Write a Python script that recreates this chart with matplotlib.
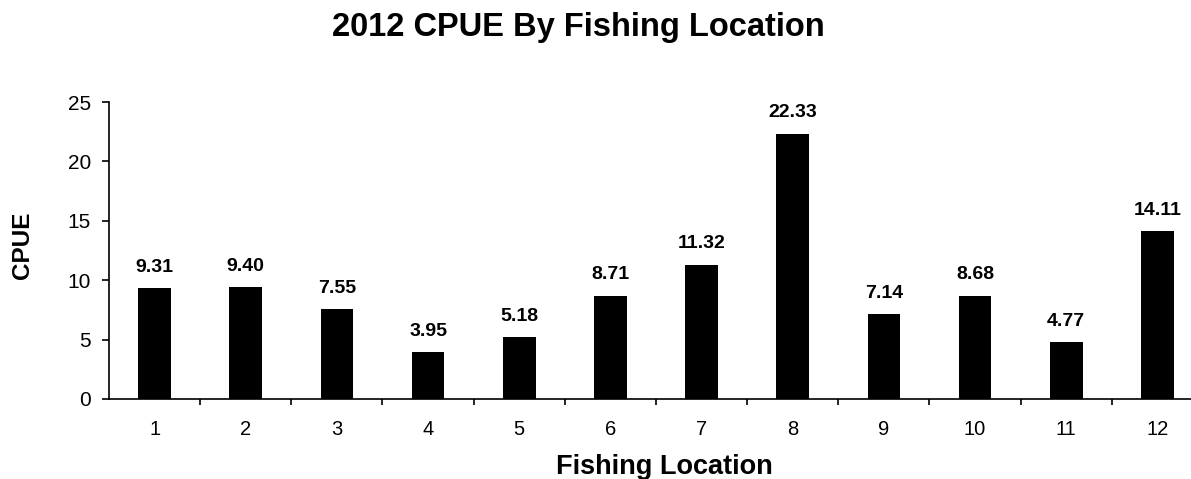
import matplotlib
matplotlib.use("Agg")
import matplotlib.pyplot as plt
from matplotlib.ticker import FixedLocator

plt.rcParams['font.family'] = ['Liberation Sans', 'DejaVu Sans']

locations = ['1', '2', '3', '4', '5', '6', '7', '8', '9', '10', '11', '12']
cpue = [9.31, 9.40, 7.55, 3.95, 5.18, 8.71, 11.32, 22.33, 7.14, 8.68, 4.77, 14.11]

W, H = 1191, 479
fig = plt.figure(figsize=(W / 100, H / 100), dpi=100)

# axes frame in pixels: left edge, bottom, width, height
ax_l, ax_b, ax_w, ax_h = 109, 80, 1094, 297
ax = fig.add_axes([ax_l / W, ax_b / H, ax_w / W, ax_h / H])

x = list(range(1, len(locations) + 1))
bars = ax.bar(x, cpue, width=0.36, color='black', zorder=2)

for xi, v in zip(x, cpue):
    ax.annotate(f"{v:.2f}", (xi, v), xytext=(0, 9), textcoords='offset points',
                ha='center', va='bottom', fontsize=14, fontweight='bold')

ax.set_xlim(0.5, len(locations) + 0.5)
ax.set_ylim(0, 25)
ax.set_yticks([0, 5, 10, 15, 20, 25])
ax.set_xticks(x)
ax.set_xticklabels(locations)
ax.xaxis.set_minor_locator(FixedLocator([i + 0.5 for i in range(1, len(locations))]))

ax.tick_params(axis='x', which='major', length=0, pad=15, labelsize=14.5)
ax.tick_params(axis='x', which='minor', length=4, width=1.2, direction='out')
ax.tick_params(axis='y', which='major', length=5, width=1.2, direction='out', pad=8, labelsize=15)

for s in ('top', 'right'):
    ax.spines[s].set_visible(False)
for s in ('left', 'bottom'):
    ax.spines[s].set_linewidth(1.2)

fig.text(578 / W, 1 - 36 / H, "2012 CPUE By Fishing Location", ha='center', va='baseline',
         fontsize=23.5, fontweight='bold')
fig.text(664 / W, 1 - 474 / H, "Fishing Location", ha='center', va='baseline',
         fontsize=19.5, fontweight='bold')
fig.text(23 / W, 1 - 245 / H, "CPUE", ha='center', va='center', rotation=90,
         fontsize=17.5, fontweight='bold')

fig.savefig("out.png", dpi=100)
